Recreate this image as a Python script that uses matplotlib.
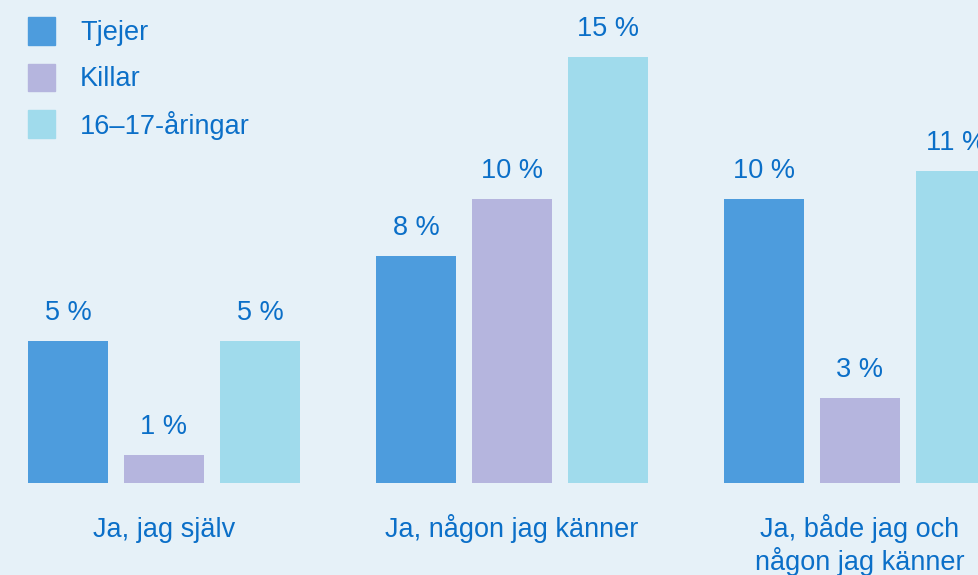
import matplotlib.pyplot as plt
from matplotlib.patches import Rectangle
import numpy as np

categories = ["Ja, jag själv", "Ja, någon jag känner", "Ja, både jag och\nnågon jag känner"]
series = ["Tjejer", "Killar", "16–17-åringar"]
tjejer = [5, 8, 10]
killar = [1, 10, 3]
aringar = [5, 15, 11]

BG = "#E6F1F8"
TEXT = "#0B6FC8"
COLORS = ["#4D9CDD", "#B5B5DE", "#A0DBEC"]

W, H = 979, 575
fig = plt.figure(figsize=(W / 100, H / 100), dpi=100)
fig.patch.set_facecolor(BG)
plt.rcParams["font.family"] = ["Liberation Sans", "DejaVu Sans"]
FS = 19.5

# axes: baseline 92 px from bottom, 28.4 px per percent
base = 92
ax = fig.add_axes([0, base / H, 1, 1 - base / H])
ax.set_facecolor(BG)
ax.set_xlim(0, W)
ax.set_ylim(0, (H - base) / 28.4)
ax.axis("off")

group_pitch = 348
bar_pitch = 96
bar_w = 80
start = 28

values = [tjejer, killar, aringar]
x_groups = start + np.arange(len(categories)) * group_pitch
for j, vals in enumerate(values):
    xs = x_groups + j * bar_pitch
    bars = ax.bar(xs, vals, width=bar_w, align="edge", color=COLORS[j])
    for b, v in zip(bars, vals):
        ax.annotate(f"{v} %", (b.get_x() + bar_w / 2, v), xytext=(0, 28 * 0.72),
                    textcoords="offset points", ha="center", va="center",
                    fontsize=FS, color=TEXT, annotation_clip=False)

# category labels below baseline (first line baseline ~54 px under bars)
for xg, cat in zip(x_groups, categories):
    cx = xg + (3 * bar_w + 2 * (bar_pitch - bar_w)) / 2
    first, *rest = cat.split("\n")
    ax.annotate(first, (cx, 0), xytext=(0, -54 * 0.72), textcoords="offset points",
                ha="center", va="baseline", fontsize=FS, color=TEXT,
                annotation_clip=False)
    for k, line in enumerate(rest, start=1):
        ax.annotate(line, (cx, 0), xytext=(0, -(54 + 32.5 * k) * 0.72),
                    textcoords="offset points", ha="center", va="baseline",
                    fontsize=FS, color=TEXT, annotation_clip=False)

# legend
for i, (name, c) in enumerate(zip(series, COLORS)):
    yc = 31 + i * 46.5
    fig.patches.append(Rectangle((28 / W, 1 - (yc + 13.5) / H), 27 / W, 27 / H,
                                 transform=fig.transFigure, color=c))
    fig.text(80 / W, 1 - (yc + 1.5) / H, name, ha="left", va="center",
             fontsize=FS, color=TEXT)

fig.savefig("out.png", dpi=100, facecolor=BG)
